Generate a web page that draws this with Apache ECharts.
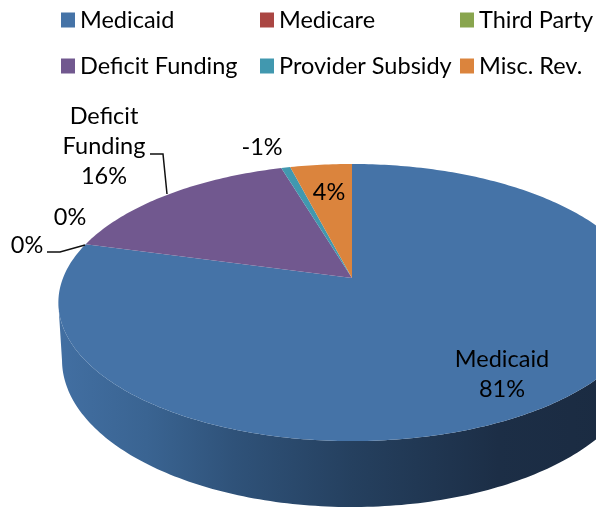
<!DOCTYPE html>
<html><head><meta charset="utf-8">
<style>html,body{margin:0;padding:0;background:#fff}#c{width:596px;height:507px}</style>
<script src="https://cdn.jsdelivr.net/npm/echarts@6/dist/echarts.min.js"></script>
</head><body><div id="c"></div>
<script>
const categories = ['Medicaid','Medicare','Third Party','Deficit Funding','Provider Subsidy','Misc. Rev.'];
const values = [80.6,0,0,16.4,-0.6,4.1];
const colors = ['#4573A7','#AA4643','#89A54E','#71588F','#4198AF','#DB843D'];
const showName = [true,false,false,true,false,false];

const FONT = 'Lato, Carlito, "Open Sans", sans-serif';
const legendPos = [[61,8],[260,8],[460,8],[61,54],[260,54],[460,54]];
const labelPos = [[502,374],[70,217],[27,245],[104,146],[262,147],[329,192]];
const leaders = [null,null,[[47,252],[60,252],[85,245]],[[150,154],[163,154],[167,194]],null,null];

// perspective projection of the pie disc
const P = {cx:352, c:0.177, topA:278, topB:-85, topX:289, botA:334, botB:-83.3, botX:285.4};
const proj = (th,a,b,X) => {
  const u = Math.sin(th), v = Math.cos(th), d = 1 + P.c*v;
  return [P.cx + X*u/d, (a + b*v)/d];
};
const total = values.reduce((s,v)=>s+Math.abs(v),0);
const startOf = i => values.slice(0,i).reduce((s,v)=>s+Math.abs(v),0)/total*2*Math.PI;

const wallGrad = () => new echarts.graphic.LinearGradient(0,0,1,0,[
  {offset:0,color:'#426FA2'},{offset:0.15,color:'#3A6492'},{offset:0.3,color:'#2F5279'},
  {offset:0.5,color:'#25405F'},{offset:0.75,color:'#1C2E46'},{offset:1,color:'#1A2A40'}]);

function renderItem(params, api){
  const i = params.seriesIndex, val = Math.abs(api.value(0));
  const children = [];
  const color = api.visual('color');
  if (val > 0){
    const a0 = startOf(i), a1 = a0 + val/total*2*Math.PI;
    const n = Math.max(4, Math.ceil((a1-a0)*60));
    const rim = [];
    for (let k=0;k<=n;k++) rim.push(a0+(a1-a0)*k/n);
    // side wall: the front-facing part of the rim
    const front = rim.filter(t => Math.cos(t) <= -P.c);
    if (front.length > 1){
      const tops = front.map(t=>proj(t,P.topA,P.topB,P.topX));
      const bots = front.map(t=>proj(t,P.botA,P.botB,P.botX)).reverse();
      children.push({type:'polygon',shape:{points:tops.concat(bots)},style:{fill:wallGrad()},z2:1});
    }
    const pts = [[P.cx,P.topA]].concat(rim.map(t=>proj(t,P.topA,P.topB,P.topX)));
    children.push({type:'polygon',shape:{points:pts},style:{fill:color},z2:2});
  }
  const lab = (showName[i] ? categories[i].replace(' ','\n')+'\n' : '') + Math.round(values[i]) + '%';
  children.push({type:'text',z2:5,style:{x:labelPos[i][0],y:labelPos[i][1],text:lab,
    fill:'#000',font:'23.5px '+FONT,lineHeight:30,align:'center',verticalAlign:'middle'}});
  if (leaders[i]) children.push({type:'polyline',z2:4,shape:{points:leaders[i]},
    style:{stroke:'#111',lineWidth:1.5,fill:null}});
  return {type:'group',children};
}

const chart = echarts.init(document.getElementById('c'),null,{renderer:'canvas'});
chart.setOption({
  animation:false,
  backgroundColor:'#fff',
  legend: categories.map((name,i)=>({
    data:[name],left:legendPos[i][0],top:legendPos[i][1],padding:0,orient:'horizontal',
    icon:'rect',itemWidth:14,itemHeight:15,selectedMode:false,
    textStyle:{fontFamily:FONT,fontSize:23.5,color:'#000'}
  })),
  series: categories.map((name,i)=>({
    type:'custom',name,coordinateSystem:'none',silent:true,
    itemStyle:{color:colors[i]},
    data:[[values[i]]],renderItem
  }))
});
</script></body></html>
